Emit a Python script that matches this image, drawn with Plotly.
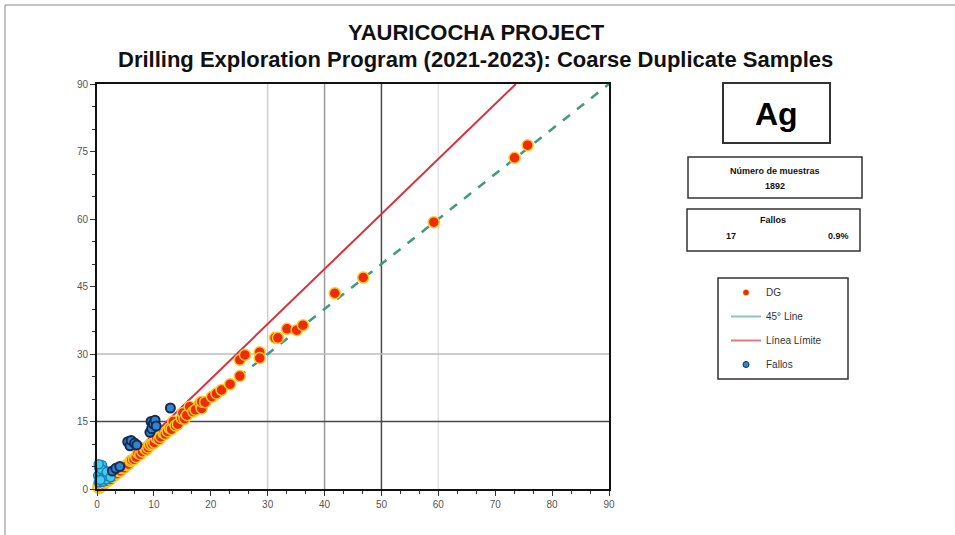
import plotly.graph_objects as go

# ---------------- data ----------------
dg_x = [0.2, 0.3, 0.4, 0.5, 0.6, 0.8, 1.0, 1.2, 1.3, 1.5, 1.8, 2.0, 2.3, 2.6, 2.9,
        3.2, 3.5, 3.8, 4.1, 4.4, 4.8, 5.2, 5.5, 5.9, 6.1, 6.5, 6.9, 7.2, 7.6, 8.0,
        8.4, 8.7, 9.0, 9.3, 9.7, 10.1, 10.5, 10.9, 11.2, 11.7, 12.0, 12.4, 12.8,
        13.1, 13.4, 13.8, 14.2, 14.9, 15.1, 15.4, 15.8, 16.3, 16.9, 17.3, 18.1,
        18.4, 18.4, 19.0, 20.2, 21.0, 21.9, 23.4, 25.1, 25.1, 26.0, 28.6, 28.6,
        31.3, 31.8, 33.4, 35.1, 36.2, 41.8, 46.8, 59.2, 73.4, 75.7]
dg_y = [0.5, 0.3, 0.2, 0.6, 0.4, 0.7, 1.1, 1.0, 1.4, 1.6, 1.7, 2.2, 2.1, 2.7, 2.8,
        3.3, 3.4, 4.0, 4.0, 4.6, 4.7, 5.3, 5.5, 6.2, 6.4, 6.6, 7.1, 8.0, 7.7, 8.3,
        9.1, 8.7, 9.2, 9.8, 10.0, 10.3, 11.3, 11.0, 11.6, 12.4, 12.2, 12.8, 13.5,
        13.3, 15.0, 14.1, 14.4, 15.7, 16.9, 15.6, 16.4, 18.3, 17.2, 17.6, 19.1,
        17.9, 19.4, 19.3, 20.5, 21.2, 22.0, 23.3, 25.1, 28.7, 29.8, 30.4, 29.1,
        33.6, 33.6, 35.6, 35.3, 36.4, 43.5, 47.0, 59.3, 73.6, 76.4]

fail_x = [2.7, 3.3, 4.0, 5.4, 5.8, 6.0, 6.6, 7.0, 9.3, 9.5, 9.6, 9.9, 10.2, 10.4, 12.9]
fail_y = [4.0, 4.6, 5.0, 10.5, 9.6, 10.8, 10.2, 9.8, 12.6, 15.0, 13.4, 14.5, 15.3, 14.0, 18.0]

fail_low_x = [0.2, 0.3, 0.4, 0.5, 0.7, 0.9, 1.0, 1.1, 1.3, 1.6, 1.9, 2.2,
              0.6, 1.4, 0.8, 1.7, 2.4, 0.3]
fail_low_y = [3.0, 1.5, 4.6, 2.8, 3.6, 5.3, 1.6, 2.3, 3.2, 2.1, 2.9, 3.3,
              2.0, 4.1, 4.4, 3.8, 2.6, 5.5]

line45_x = [0, 90]
line45_y = [0, 90]
limit_slope = 11 / 9
limit_x = [0, 90 / limit_slope]
limit_y = [0, 90]

x_ticks = [0, 10, 20, 30, 40, 50, 60, 70, 80, 90]
y_ticks = [0, 15, 30, 45, 60, 75, 90]

n_samples = 1892
n_fail = 17
pct_fail = "0.9%"

# ---------------- figure ----------------
W, H = 955, 535
L, R, T, B = 97, 609, 84, 489
pw, ph = R - L, B - T


def px(xp):
    return (xp - L) / pw


def py(yp):
    return (B - yp) / ph


RED, YEL = "#ee2a0c", "#ffc81e"
BLUE, NAVY = "#2f86d0", "#172a55"
GREEN, CRIMSON = "#3f9a82", "#d6323c"

fig = go.Figure()

fig.add_trace(go.Scatter(x=line45_x, y=line45_y, mode="lines", name="45° Line",
                         line=dict(color=GREEN, width=2.5, dash="dash"),
                         showlegend=False))
fig.add_trace(go.Scatter(x=limit_x, y=limit_y, mode="lines", name="Línea Límite",
                         line=dict(color=CRIMSON, width=2), showlegend=False))
fig.add_trace(go.Scatter(x=dg_x, y=dg_y, mode="markers", name="DG", cliponaxis=False,
                         marker=dict(color=RED, size=11, line=dict(color=YEL, width=1.5)),
                         showlegend=False))
fig.add_trace(go.Scatter(x=fail_low_x, y=fail_low_y, mode="markers", name="Fallos",
                         cliponaxis=False,
                         marker=dict(color="#3fd0f0", size=9,
                                     line=dict(color="#1f7fb8", width=1.5)),
                         showlegend=False))
fig.add_trace(go.Scatter(x=fail_x, y=fail_y, mode="markers", name="Fallos",
                         cliponaxis=False,
                         marker=dict(color=BLUE, size=9, line=dict(color=NAVY, width=2)),
                         showlegend=False))

# legend entries (small symbols as in the reference legend)
fig.add_trace(go.Scatter(x=[None], y=[None], mode="markers", name="DG", legendgroup="g1",
                         marker=dict(color=RED, size=6, line=dict(color=YEL, width=0.5))))
fig.add_trace(go.Scatter(x=[None], y=[None], mode="lines", name="45° Line", legendgroup="g2",
                         line=dict(color="#8fc4b4", width=2)))
fig.add_trace(go.Scatter(x=[None], y=[None], mode="lines", name="Línea Límite",
                         legendgroup="g3", line=dict(color="#e07a80", width=2)))
fig.add_trace(go.Scatter(x=[None], y=[None], mode="markers", name="Fallos", legendgroup="g4",
                         marker=dict(color=BLUE, size=6, line=dict(color=NAVY, width=1))))

# reference lines
shapes = []
for xv, col in [(30, "#cfcfcf"), (40, "#9a9a9a"), (50, "#4a4a4a"), (60, "#e2e2e2")]:
    shapes.append(dict(type="line", xref="x", yref="y", x0=xv, x1=xv, y0=0, y1=90,
                       line=dict(color=col, width=1.5), layer="below"))
for yv, col in [(30, "#bdbdbd"), (15, "#4a4a4a")]:
    shapes.append(dict(type="line", xref="x", yref="y", x0=0, x1=90, y0=yv, y1=yv,
                       line=dict(color=col, width=1.5), layer="below"))

# page frame (top and left)
shapes.append(dict(type="line", xref="paper", yref="paper", x0=px(5), x1=px(960),
                   y0=py(5), y1=py(5), line=dict(color="#888", width=1)))
shapes.append(dict(type="line", xref="paper", yref="paper", x0=px(5), x1=px(5),
                   y0=py(5), y1=py(540), line=dict(color="#888", width=1)))

# stat boxes and legend frame
shapes.append(dict(type="rect", xref="paper", yref="paper", x0=px(723), x1=px(830),
                   y0=py(143), y1=py(83), line=dict(color="#333", width=2),
                   fillcolor="white"))
shapes.append(dict(type="rect", xref="paper", yref="paper", x0=px(688), x1=px(862),
                   y0=py(198), y1=py(157), line=dict(color="#333", width=1.5),
                   fillcolor="white"))
shapes.append(dict(type="rect", xref="paper", yref="paper", x0=px(687), x1=px(860),
                   y0=py(251), y1=py(209), line=dict(color="#333", width=1.5),
                   fillcolor="white"))
shapes.append(dict(type="rect", xref="paper", yref="paper", x0=px(718), x1=px(848),
                   y0=py(379), y1=py(278), line=dict(color="#333", width=1.5)))

ann = []


def add_text(text, xp, yp, size, family="Arial", color="#111"):
    ann.append(dict(text=text, xref="paper", yref="paper", x=px(xp), y=py(yp),
                    xanchor="center", yanchor="middle", showarrow=False,
                    font=dict(family=family, size=size, color=color)))


add_text("<b>YAURICOCHA PROJECT</b>", 476, 33, 22)
add_text("<b>Drilling Exploration Program (2021-2023): Coarse Duplicate Samples</b>",
         475, 60, 22)
add_text("<b>Ag</b>", 776.5, 114, 32, color="#000")
add_text("<b>Número de muestras</b>", 775, 171, 9)
add_text(f"<b>{n_samples}</b>", 775, 186, 9)
add_text("<b>Fallos</b>", 773, 220, 9)
add_text(f"<b>{n_fail}</b>", 731, 236, 9)
add_text(f"<b>{pct_fail}</b>", 838, 236, 9)

axis_common = dict(showgrid=False, zeroline=False, showline=True, linecolor="#111",
                   linewidth=2, mirror=True, ticks="outside", ticklen=5,
                   tickcolor="#333", tickfont=dict(family="Arial", size=10, color="#555"))

fig.update_layout(
    width=W, height=H,
    margin=dict(l=L, r=W - R, t=T, b=H - B),
    paper_bgcolor="white", plot_bgcolor="white",
    shapes=shapes, annotations=ann,
    xaxis=dict(range=[0, 90], tickvals=x_ticks,
               minor=dict(dtick=10 / 3, ticks="outside", ticklen=3, tickcolor="#333"),
               **axis_common),
    yaxis=dict(range=[0, 90], tickvals=y_ticks,
               minor=dict(dtick=5, ticks="outside", ticklen=3, tickcolor="#333"),
               **axis_common),
    legend=dict(x=px(726), y=py(278), xanchor="left", yanchor="top",
                borderwidth=0, bgcolor="rgba(0,0,0,0)",
                font=dict(family="Arial", size=10, color="#333"),
                itemsizing="trace", traceorder="grouped", tracegroupgap=5,
                itemwidth=30),
    showlegend=True,
)

fig.write_html("out.html")
